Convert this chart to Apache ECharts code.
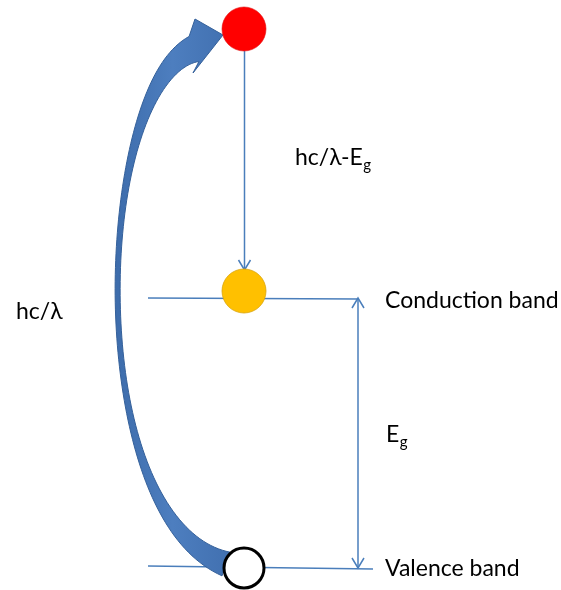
<!DOCTYPE html>
<html>
<head>
<meta charset="utf-8">
<script src="https://cdn.jsdelivr.net/npm/echarts@6/dist/echarts.min.js"></script>
<style>
html, body { margin: 0; padding: 0; background: #fff; }
#chart { width: 561px; height: 590px; }
</style>
</head>
<body>
<div id="chart"></div>
<script>
// band diagram drawn on a value grid that maps 1:1 to the 561x590 picture (y grows downwards)
const bandNames = ['Conduction band', 'Valence band']
const bandLines = [[148, 298, 358, 299], [148, 566, 373, 569]]
const electrons = [[244, 29], [244, 291], [244, 568]]
const electronColors = ['#ff0000', '#ffc000', '#ffffff']
const electronBorders = ['#e01010', '#d9a50c', '#000000']
const electronBorderWidths = [0.6, 0.8, 3]
const electronSizes = [44, 44, 40]
// [x1, y1, x2, y2, arrow at start, arrow at end]
const arrows = [[244.5, 51, 244.5, 270, 0, 1], [358, 298, 358, 568, 1, 1]]
// curved photon arrow: bezier centre line, widths (tail, middle, head), head triangle
const arcCtrl = [[226, 564], [80, 515], [94, 88], [194, 49]]
const arcWidths = [25, 5, 27]
const arcHead = [[195, 19], [223, 35], [193, 73]]

const lineColor = '#4a7ebb'
const textFont = 'Lato, "Open Sans", sans-serif'

const segments = bandLines.map(l => l.concat([0, 0])).concat(arrows)

function bez(p, t) {
  const u = 1 - t
  const a = u * u * u, b = 3 * u * u * t, c = 3 * u * t * t, d = t * t * t
  return [
    a * p[0][0] + b * p[1][0] + c * p[2][0] + d * p[3][0],
    a * p[0][1] + b * p[1][1] + c * p[2][1] + d * p[3][1]
  ]
}

function bezTan(p, t) {
  const u = 1 - t
  const a = 3 * u * u, b = 6 * u * t, c = 3 * t * t
  return [
    a * (p[1][0] - p[0][0]) + b * (p[2][0] - p[1][0]) + c * (p[3][0] - p[2][0]),
    a * (p[1][1] - p[0][1]) + b * (p[2][1] - p[1][1]) + c * (p[3][1] - p[2][1])
  ]
}

function vHead(tip, from) {
  const dx = tip[0] - from[0], dy = tip[1] - from[1]
  const len = Math.sqrt(dx * dx + dy * dy) || 1
  const ux = dx / len, uy = dy / len
  return [
    [tip[0] - ux * 10 - uy * 6, tip[1] - uy * 10 + ux * 6],
    tip,
    [tip[0] - ux * 10 + uy * 6, tip[1] - uy * 10 - ux * 6]
  ]
}

function renderSegment(params, api) {
  const p1 = api.coord([api.value(0), api.value(1)])
  const p2 = api.coord([api.value(2), api.value(3)])
  const style = { stroke: lineColor, lineWidth: 1.5, fill: null }
  const children = [{ type: 'line', shape: { x1: p1[0], y1: p1[1], x2: p2[0], y2: p2[1] }, style }]
  if (api.value(4)) children.push({ type: 'polyline', shape: { points: vHead(p1, p2) }, style })
  if (api.value(5)) children.push({ type: 'polyline', shape: { points: vHead(p2, p1) }, style })
  return { type: 'group', children }
}

function renderArc(params, api) {
  const c = arcCtrl.map(pt => api.coord(pt))
  const h = arcHead.map(pt => api.coord(pt))
  const sideA = [], sideB = []
  const n = 100
  for (let i = 0; i <= n; i++) {
    const t = i / n
    const pt = bez(c, t)
    const d = bezTan(c, t)
    const len = Math.sqrt(d[0] * d[0] + d[1] * d[1]) || 1
    const nx = -d[1] / len, ny = d[0] / len
    const s = Math.pow(Math.abs(2 * t - 1), 2.6)
    const w = arcWidths[1] + ((t < 0.5 ? arcWidths[0] : arcWidths[2]) - arcWidths[1]) * s
    sideA.push([pt[0] + nx * w / 2, pt[1] + ny * w / 2])
    sideB.push([pt[0] - nx * w / 2, pt[1] - ny * w / 2])
  }
  let a = sideA, b = sideB
  if (sideB[n][1] < sideA[n][1]) { a = sideB; b = sideA }
  const points = a.concat([h[0], h[1], h[2]], b.slice().reverse())
  return {
    type: 'polygon',
    shape: { points },
    style: {
      fill: new echarts.graphic.LinearGradient(0, 0, 1, 0, [
        { offset: 0, color: '#3d6cab' },
        { offset: 0.5, color: '#4d7ebf' },
        { offset: 1, color: '#4170b0' }
      ]),
      stroke: '#34609a',
      lineWidth: 1
    }
  }
}

// [text, subscript, x, baseline y]
const labels = [
  ['hc/λ-E', 'g', 295, 164],
  ['hc/λ', '', 16, 318],
  [bandNames[0], '', 385, 307],
  ['E', 'g', 386, 441],
  [bandNames[1], '', 385, 575]
]
const mainSize = 23
const subSize = 15

const measureCtx = document.createElement('canvas').getContext('2d')
function textWidth(str, size) {
  measureCtx.font = size + 'px ' + textFont
  return measureCtx.measureText(str).width
}

const graphics = []
labels.forEach(l => {
  graphics.push({
    type: 'text', x: l[2], y: l[3] - mainSize * 0.3, z: 10,
    style: { text: l[0], font: mainSize + 'px ' + textFont, fill: '#000', textAlign: 'left', textVerticalAlign: 'middle' }
  })
  if (l[1]) {
    graphics.push({
      type: 'text', x: l[2] + textWidth(l[0], mainSize) + 0.5, y: l[3] + 6 - subSize * 0.3, z: 10,
      style: { text: l[1], font: subSize + 'px ' + textFont, fill: '#000', textAlign: 'left', textVerticalAlign: 'middle' }
    })
  }
})

const chart = echarts.init(document.getElementById('chart'))
chart.setOption({
  animation: false,
  backgroundColor: '#ffffff',
  grid: { left: 0, right: 0, top: 0, bottom: 0 },
  xAxis: { type: 'value', min: 0, max: 561, show: false },
  yAxis: { type: 'value', min: 0, max: 590, inverse: true, show: false },
  series: [
    {
      type: 'custom',
      name: 'levels',
      z: 2,
      renderItem: renderSegment,
      data: segments
    },
    {
      type: 'custom',
      name: 'photon',
      z: 3,
      renderItem: renderArc,
      data: [[0, 0]]
    },
    {
      type: 'scatter',
      name: 'electrons',
      z: 5,
      symbol: 'circle',
      symbolSize: (val, params) => electronSizes[params.dataIndex],
      data: electrons.map((p, i) => ({
        value: p,
        itemStyle: {
          color: electronColors[i],
          borderColor: electronBorders[i],
          borderWidth: electronBorderWidths[i],
          opacity: 1
        }
      }))
    }
  ],
  graphic: graphics
})
</script>
</body>
</html>
